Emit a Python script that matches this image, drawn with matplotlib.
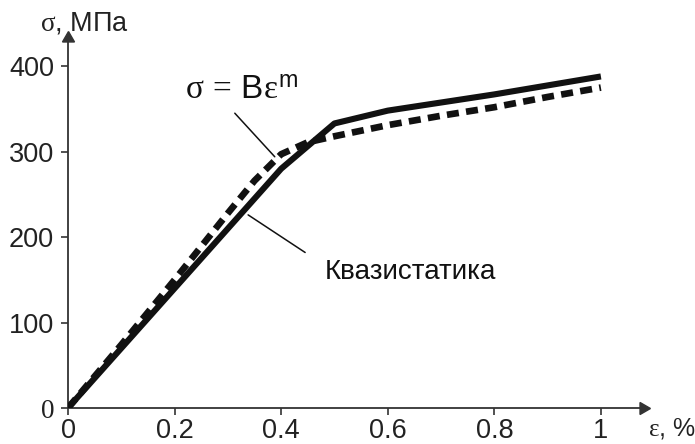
import matplotlib
matplotlib.use("Agg")
import matplotlib.pyplot as plt

plt.rcParams["font.family"] = ["Liberation Sans", "DejaVu Sans"]
plt.rcParams["mathtext.fontset"] = "custom"
plt.rcParams["mathtext.rm"] = "Liberation Serif"
plt.rcParams["mathtext.it"] = "Liberation Serif"
plt.rcParams["mathtext.sf"] = "Liberation Sans"

# quasi-static curve
eps_qs = [0.0, 0.4, 0.5, 0.6, 0.8, 1.0]
sig_qs = [0, 280, 333, 348, 367, 388]

# power-law fit sigma = B*eps^m
eps_fit = [0.0, 0.1, 0.2, 0.3, 0.35, 0.4, 0.45, 0.5, 0.6, 0.7, 0.8, 0.9, 1.0]
sig_fit = [0, 74, 150, 228, 266, 297, 311, 318, 331, 342, 352, 364, 375]

xticks = [0, 0.2, 0.4, 0.6, 0.8, 1]
xtick_labels = ["0", "0.2", "0.4", "0.6", "0.8", "1"]
yticks = [0, 100, 200, 300, 400]
ytick_labels = ["0", "100", "200", "300", "400"]

ink = "#111111"
axis_col = "#333333"
label_col = "#222222"

fig = plt.figure(figsize=(6.95, 4.44), dpi=100)
ax = fig.add_axes([68 / 695, 36 / 444, 575 / 695, 370 / 444])

ax.plot(eps_qs, sig_qs, color=ink, lw=4.4, solid_capstyle="butt", zorder=3)
ax.plot(eps_fit, sig_fit, color=ink, lw=4.8, dashes=(1.8, 1.1), zorder=4)

ax.set_xlim(0, 1.079)
ax.set_ylim(0, 433)

for side in ("top", "right"):
    ax.spines[side].set_visible(False)
for side in ("left", "bottom"):
    ax.spines[side].set_color(axis_col)
    ax.spines[side].set_linewidth(1.3)

# arrow heads on the axes
ax.plot(1, 0, marker=(3, 0, -90), ms=10, color=axis_col, transform=ax.transAxes, clip_on=False)
ax.plot(0, 1, marker=(3, 0, 0), ms=10, color=axis_col, transform=ax.transAxes, clip_on=False)

ax.set_xticks(xticks)
ax.set_xticklabels(xtick_labels)
ax.set_yticks(yticks)
ax.set_yticklabels(ytick_labels)
ax.tick_params(axis="both", direction="out", length=5, width=1.2, color=axis_col,
               labelsize=19.5, labelcolor=label_col)
ax.tick_params(axis="x", pad=2)
ax.tick_params(axis="y", pad=5)
ax.get_yticklabels()[0].set_fontfamily("Liberation Serif")

fig.text(40 / 695, 1 - 24 / 444, "$σ$, МПа", fontsize=19.5, color=label_col,
         ha="left", va="center")
fig.text(648 / 695, 1 - 428 / 444, "$ε$, %", fontsize=18, color=label_col,
         ha="left", va="center")

# formula label with its leader line
ax.text(0.326, 372, r"$σ\,=\,\mathsf{B}ε^{\mathsf{m}}$", fontsize=24, color=ink,
        ha="center", va="center")
ax.annotate("", xy=(0.388, 294), xytext=(0.313, 345),
            arrowprops=dict(arrowstyle="-", color=ink, lw=1.1, shrinkA=0, shrinkB=0))

# quasi-static label with its leader line
ax.text(0.482, 159, "Квазистатика", fontsize=20, color=ink, ha="left", va="center")
ax.annotate("", xy=(0.338, 226), xytext=(0.445, 182),
            arrowprops=dict(arrowstyle="-", color=ink, lw=1.1, shrinkA=0, shrinkB=0))

fig.savefig("out.png", dpi=100)
